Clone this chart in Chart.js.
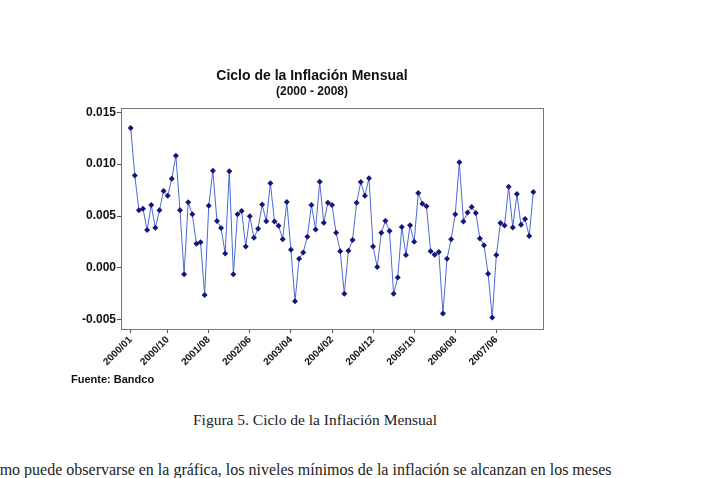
<!DOCTYPE html>
<html>
<head>
<meta charset="utf-8">
<script src="https://cdn.jsdelivr.net/npm/chart.js@4.4.1/dist/chart.umd.min.js"></script>
<style>
  body { margin: 0; background: #fff; width: 708px; height: 478px; overflow: hidden; position: relative; }
  #wrap { position: absolute; left: 0; top: 0; width: 708px; height: 400px; }
  .fuente { position: absolute; left: 71px; top: 373px; font: bold 11px "Liberation Sans", Arial, sans-serif; color: #111; }
  .caption { position: absolute; left: 0; width: 630px; top: 411px; text-align: center; font: 15.5px "Liberation Serif", serif; color: #222; }
  .para { position: absolute; left: -19px; top: 461px; white-space: nowrap; font: 16px "Liberation Serif", serif; color: #222; }
</style>
</head>
<body>
<div id="wrap"><canvas id="chartInflacion"></canvas></div>
<div class="fuente">Fuente: Bandco</div>
<div class="caption">Figura 5. Ciclo de la Inflación Mensual</div>
<div class="para">Como puede observarse en la gráfica, los niveles mínimos de la inflación se alcanzan en los meses</div>

<script>
// ciclo mensual de la inflacion, 2000/01 - 2008/03
let inflacion = [
  0.0135, 0.0089, 0.00555, 0.0057, 0.00364, 0.00606, 0.00386, 0.00555, 0.00741, 0.00696,
  0.0086, 0.01082, 0.00555, -0.00061, 0.00632, 0.00516, 0.00232, 0.00248, -0.00261, 0.00599,
  0.00937, 0.00451, 0.00384, 0.00139, 0.00931, -0.00061, 0.00516, 0.00548, 0.00206, 0.00497,
  0.0029, 0.00377, 0.00612, 0.0045, 0.00815, 0.00448, 0.00406, 0.00277, 0.00635, 0.00174,
  -0.00322, 0.00087, 0.00148, 0.003, 0.00606, 0.00371, 0.00831, 0.00435, 0.00628, 0.00606,
  0.00338, 0.00161, -0.00251, 0.00164, 0.00268, 0.00628, 0.00828, 0.00696, 0.00864, 0.00206,
  0.00007, 0.00338, 0.00454, 0.00355, -0.00251, -0.00093, 0.00393, 0.00123, 0.00412, 0.00251,
  0.00722, 0.00619, 0.00593, 0.00161, 0.00126, 0.00152, -0.00441, 0.00087, 0.00277, 0.00516,
  0.01018, 0.00448, 0.00535, 0.00586, 0.00528, 0.00284, 0.00219, -0.00058, -0.00479, 0.00123,
  0.00432, 0.00409, 0.00783, 0.0039, 0.00712, 0.00416, 0.00471, 0.00306, 0.00731
];
let xTickPos = [0, 9, 19, 29, 39, 49, 59, 69, 79, 89];
let xTickLabels = ["2000/01", "2000/10", "2001/08", "2002/06", "2003/04",
                   "2004/02", "2004/12", "2005/10", "2006/08", "2007/06"];
let yTicks = [-0.005, 0.000, 0.005, 0.010, 0.015];

const puntos = inflacion.map((v, i) => ({ x: i, y: v }));

// marco gris alrededor del area de grafico
const marco = {
  id: 'marco',
  afterDraw(chart) {
    const a = chart.chartArea;
    const c = chart.ctx;
    c.save();
    c.strokeStyle = '#777';
    c.lineWidth = 1;
    c.strokeRect(Math.round(a.left) + 0.5, Math.round(a.top) + 0.5,
                 Math.round(a.right - a.left), Math.round(a.bottom - a.top));
    c.restore();
  }
};

const ctx = document.getElementById('chartInflacion').getContext('2d');
new Chart(ctx, {
  type: 'line',
  data: {
    datasets: [{
      data: puntos,
      borderColor: '#4a6ad8',
      borderWidth: 1,
      pointStyle: 'rectRot',
      pointRadius: 3,
      pointBackgroundColor: '#15157a',
      pointBorderColor: '#15157a',
      pointBorderWidth: 0,
      tension: 0
    }]
  },
  options: {
    responsive: true,
    maintainAspectRatio: false,
    animation: false,
    layout: { padding: { left: 81, right: 165, top: 0, bottom: 31 } },
    plugins: {
      legend: { display: false },
      tooltip: { enabled: false },
      title: {
        display: true,
        text: 'Ciclo de la Inflación Mensual',
        color: '#111',
        font: { family: 'Liberation Sans', size: 14, weight: 'bold' },
        padding: { top: 68, bottom: 0 }
      },
      subtitle: {
        display: true,
        text: '(2000 - 2008)',
        color: '#111',
        font: { family: 'Liberation Sans', size: 12, weight: 'bold' },
        padding: { top: 0, bottom: 9 }
      }
    },
    scales: {
      x: {
        type: 'linear',
        min: -2.36,
        max: 100.36,
        afterBuildTicks: (scale) => { scale.ticks = xTickPos.map(v => ({ value: v })); },
        afterFit: (scale) => { scale.height = 40; },
        grid: { drawOnChartArea: false, tickLength: 4, color: '#555' },
        border: { display: false },
        ticks: {
          autoSkip: false,
          minRotation: 45,
          maxRotation: 45,
          padding: 1,
          color: '#111',
          font: { family: 'Liberation Sans', size: 10, weight: 'bold' },
          callback: (v) => xTickLabels[xTickPos.indexOf(v)]
        }
      },
      y: {
        min: -0.0059,
        max: 0.0154,
        afterBuildTicks: (scale) => { scale.ticks = yTicks.map(v => ({ value: v })); },
        afterFit: (scale) => { scale.width = 40; },
        grid: { drawOnChartArea: false, tickLength: 4, color: '#555' },
        border: { display: false },
        ticks: {
          padding: 1,
          color: '#111',
          font: { family: 'Liberation Sans', size: 12, weight: 'bold' },
          callback: (v) => v.toFixed(3)
        }
      }
    }
  },
  plugins: [marco]
});
</script>
</body>
</html>
